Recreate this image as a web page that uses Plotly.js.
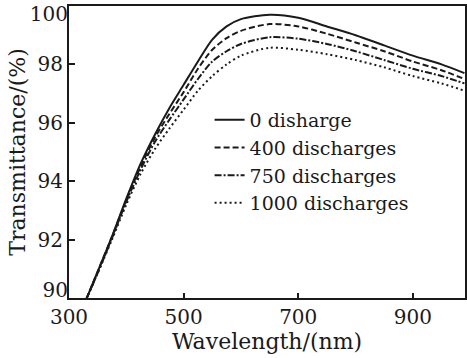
<!DOCTYPE html>
<html>
<head>
<meta charset="utf-8">
<script src="https://cdn.plot.ly/plotly-3.0.1.min.js"></script>
<style>
  html, body { margin: 0; padding: 0; background: #fff; }
  #chart { width: 467px; height: 358px; }
</style>
</head>
<body>
<div id="chart"></div>
<script>
// Wavelength grid (nm)
const wavelength = [330, 350, 375, 400, 425, 450, 475, 500, 525, 550, 575, 600, 650, 700, 750, 800, 850, 900, 950, 990];

// Transmittance (%) for each discharge count
const t0    = [89.95, 90.9, 92.1, 93.4, 94.6, 95.6, 96.5, 97.3, 98.1, 98.85, 99.3, 99.55, 99.7, 99.6, 99.3, 99.0, 98.65, 98.3, 98.0, 97.7];
const t400  = [89.95, 90.9, 92.1, 93.35, 94.5, 95.5, 96.3, 97.05, 97.85, 98.5, 98.9, 99.15, 99.38, 99.3, 99.05, 98.75, 98.45, 98.1, 97.8, 97.5];
const t750  = [89.95, 90.85, 92.05, 93.3, 94.4, 95.35, 96.1, 96.8, 97.5, 98.1, 98.45, 98.7, 98.93, 98.88, 98.7, 98.45, 98.15, 97.85, 97.6, 97.35];
const t1000 = [89.95, 90.85, 92.0, 93.2, 94.25, 95.1, 95.8, 96.45, 97.1, 97.6, 98.0, 98.3, 98.57, 98.5, 98.35, 98.15, 97.9, 97.6, 97.35, 97.1];

const seriesNames = ["0 disharge", "400 discharges", "750 discharges", "1000 discharges"];
const seriesData = [t0, t400, t750, t1000];
const seriesDash = ["solid", "6px,3px", "7px,2px,2px,2px", "2px,3px"];

const xTicks = [300, 500, 700, 900];
const yTicksMid = [92, 94, 96, 98];
const yTickBottom = [90];
const yTickTop = [100];

const fontFamily = "DejaVu Serif, serif";
const ink = "#1a1a1a";

const traces = seriesNames.map((name, i) => ({
  type: "scatter",
  mode: "lines",
  name: name,
  x: wavelength,
  y: seriesData[i],
  line: { color: ink, width: 2, dash: seriesDash[i], shape: "spline", smoothing: 0.8 }
}));

// empty helper traces so the extra label axes get drawn
["y2", "y3"].forEach(ax => traces.push({
  type: "scatter", mode: "lines", x: [], y: [], yaxis: ax,
  showlegend: false, hoverinfo: "skip"
}));

const yRange = [90, 100];
const tickFont = { family: fontFamily, size: 20, color: ink };

function extraY(vals, shift) {
  return {
    overlaying: "y",
    side: "left",
    anchor: "x",
    range: yRange,
    autorange: false,
    tickvals: vals,
    ticktext: vals.map(String),
    ticks: "",
    showline: false,
    showgrid: false,
    zeroline: false,
    ticklabelshift: shift,
    ticklabeloverflow: "allow",
    tickfont: tickFont
  };
}

const layout = {
  width: 467,
  height: 358,
  margin: { l: 69, r: 2, t: 6, b: 60 },
  paper_bgcolor: "#fff",
  plot_bgcolor: "#fff",
  font: { family: fontFamily, color: ink, size: 19 },
  showlegend: true,
  legend: {
    x: 0.355, y: 0.675, xanchor: "left", yanchor: "top",
    bgcolor: "rgba(0,0,0,0)",
    font: { family: fontFamily, size: 19, color: ink },
    itemwidth: 30,
    tracegroupgap: 0
  },
  xaxis: {
    range: [300, 991],
    tickvals: xTicks,
    ticktext: xTicks.map(String),
    ticks: "inside",
    ticklen: 5,
    tickwidth: 2,
    tickcolor: ink,
    showline: true,
    linecolor: ink,
    linewidth: 2,
    mirror: true,
    showgrid: false,
    zeroline: false,
    tickfont: tickFont,
    title: { text: "Wavelength/(nm)", font: { family: fontFamily, size: 22, color: ink }, standoff: 4 }
  },
  yaxis: {
    range: yRange,
    tickvals: yTicksMid,
    ticktext: yTicksMid.map(String),
    ticks: "inside",
    ticklen: 6,
    tickwidth: 2,
    tickcolor: ink,
    showline: true,
    linecolor: ink,
    linewidth: 2,
    mirror: true,
    showgrid: false,
    zeroline: false,
    tickfont: tickFont,
    title: { text: "Transmittance/(%)", font: { family: fontFamily, size: 22, color: ink }, standoff: 6 }
  },
  yaxis2: extraY(yTickBottom, -8),
  yaxis3: extraY(yTickTop, 8)
};

Plotly.newPlot("chart", traces, layout, { displayModeBar: false, staticPlot: true });
</script>
</body>
</html>
